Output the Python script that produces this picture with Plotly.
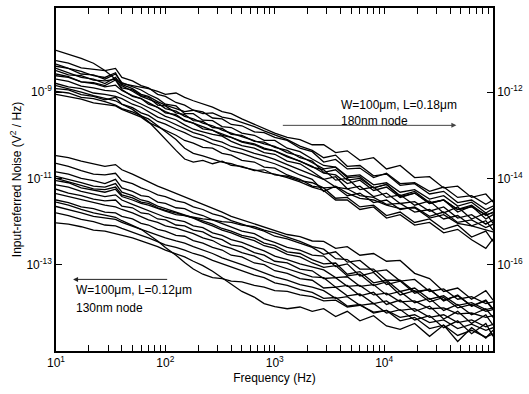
import plotly.graph_objects as go

# Frequency grid (Hz)
freq = [10, 13, 17, 22, 28, 35, 40, 50, 60, 70,
        85, 100, 125, 150, 180, 220, 270, 330, 400, 500,
        650, 800, 1000, 1300, 1700, 2200, 2800, 3600, 4600, 6000,
        8000, 10500, 14000, 19000, 26000, 35000, 47000, 63000, 85000, 99000]

# 180nm node curves: log10 of noise PSD (V^2/Hz)
u01 = [-8.03, -8.12, -8.22, -8.33, -8.50, -8.70, -8.80, -8.85, -8.88, -8.92,
       -8.98, -9.05, -9.02, -9.12, -9.20, -9.28, -9.35, -9.45, -9.50, -9.62,
       -9.75, -9.85, -9.95, -10.05, -10.10, -10.22, -10.22, -10.40, -10.36, -10.58,
       -10.52, -10.78, -10.70, -10.98, -10.96, -11.22, -11.18, -11.44, -11.36, -11.55]
u02 = [-8.27, -8.33, -8.44, -8.47, -8.50, -8.45, -8.66, -8.74, -8.85, -8.90,
       -9.05, -9.10, -9.24, -9.30, -9.42, -9.46, -9.60, -9.62, -9.75, -9.78,
       -9.92, -9.94, -10.05, -10.12, -10.30, -10.38, -10.62, -10.56, -10.78, -10.76,
       -10.98, -10.88, -11.12, -11.10, -11.30, -11.20, -11.44, -11.40, -11.60, -11.50]
u03 = [-8.40, -8.45, -8.58, -8.60, -8.70, -8.58, -8.78, -8.88, -8.95, -9.05,
       -9.15, -9.28, -9.32, -9.50, -9.50, -9.65, -9.66, -9.80, -9.82, -9.95,
       -10.00, -10.12, -10.12, -10.30, -10.38, -10.55, -10.70, -10.74, -10.95, -10.92,
       -11.15, -11.10, -11.32, -11.26, -11.48, -11.40, -11.64, -11.55, -11.80, -11.70]
u04 = [-8.50, -8.60, -8.62, -8.72, -8.74, -8.70, -8.90, -8.95, -9.08, -9.12,
       -9.30, -9.32, -9.48, -9.52, -9.66, -9.68, -9.82, -9.84, -9.98, -10.00,
       -10.14, -10.16, -10.28, -10.35, -10.52, -10.60, -10.86, -10.80, -11.04, -11.00,
       -11.22, -11.14, -11.40, -11.30, -11.56, -11.50, -11.72, -11.62, -11.86, -11.78]
u05 = [-8.58, -8.64, -8.76, -8.80, -8.88, -8.84, -8.96, -9.08, -9.15, -9.24,
       -9.36, -9.45, -9.55, -9.65, -9.72, -9.80, -9.90, -9.98, -10.04, -10.14,
       -10.20, -10.30, -10.36, -10.48, -10.60, -10.72, -10.88, -10.92, -11.12, -11.04,
       -11.28, -11.20, -11.44, -11.34, -11.58, -11.50, -11.78, -11.64, -11.94, -11.84]
u06 = [-8.70, -8.75, -8.86, -8.90, -8.96, -8.98, -9.06, -9.18, -9.26, -9.36,
       -9.46, -9.56, -9.64, -9.76, -9.86, -9.92, -9.98, -10.02, -10.14, -10.24,
       -10.30, -10.40, -10.44, -10.60, -10.66, -10.84, -11.02, -10.96, -11.24, -11.18,
       -11.42, -11.34, -11.58, -11.54, -11.76, -11.66, -11.92, -11.84, -12.06, -11.96]
u07 = [-8.80, -8.88, -8.92, -9.02, -9.05, -9.10, -9.15, -9.28, -9.35, -9.45,
       -9.58, -9.64, -9.76, -9.84, -9.94, -10.00, -10.10, -10.16, -10.26, -10.32,
       -10.42, -10.48, -10.56, -10.68, -10.80, -10.92, -11.02, -11.20, -11.24, -11.40,
       -11.44, -11.60, -11.58, -11.78, -11.72, -11.94, -11.86, -12.10, -11.98, -12.20]
u08 = [-8.92, -8.95, -9.06, -9.10, -9.18, -9.12, -9.28, -9.36, -9.48, -9.54,
       -9.68, -9.74, -9.86, -9.94, -10.04, -10.10, -10.20, -10.26, -10.36, -10.42,
       -10.52, -10.58, -10.66, -10.78, -10.92, -11.02, -11.30, -11.18, -11.34, -11.46,
       -11.50, -11.62, -11.70, -11.68, -11.92, -11.84, -12.04, -12.10, -12.20, -12.24]
u09 = [-9.05, -9.10, -9.16, -9.25, -9.28, -9.32, -9.40, -9.50, -9.58, -9.70,
       -9.80, -9.90, -10.00, -10.12, -10.18, -10.28, -10.30, -10.42, -10.46, -10.58,
       -10.62, -10.74, -10.76, -10.92, -11.02, -11.18, -11.22, -11.46, -11.44, -11.66,
       -11.62, -11.86, -11.78, -12.02, -11.94, -12.18, -12.08, -12.36, -12.22, -12.46]
u10 = [-8.85, -8.92, -9.00, -9.08, -9.15, -9.20, -9.28, -9.40, -9.55, -9.68,
       -9.90, -10.10, -10.35, -10.55, -10.62, -10.58, -10.66, -10.60, -10.70, -10.72,
       -10.82, -10.80, -10.92, -10.95, -11.05, -11.10, -11.22, -11.20, -11.40, -11.34,
       -11.56, -11.50, -11.72, -11.66, -11.88, -11.78, -12.02, -11.96, -12.14, -12.06]
u11 = [-8.98, -9.02, -9.12, -9.15, -9.22, -9.30, -9.38, -9.46, -9.55, -9.62,
       -9.78, -9.92, -10.10, -10.30, -10.42, -10.48, -10.55, -10.62, -10.66, -10.74,
       -10.80, -10.86, -10.90, -10.98, -11.08, -11.20, -11.28, -11.50, -11.50, -11.72,
       -11.66, -11.92, -11.84, -12.08, -12.02, -12.26, -12.18, -12.42, -12.62, -12.40]
u12 = [-8.35, -8.45, -8.52, -8.62, -8.66, -8.55, -8.82, -8.92, -9.05, -9.10,
       -9.22, -9.30, -9.38, -9.45, -9.42, -9.50, -9.48, -9.58, -9.62, -9.70,
       -9.80, -9.90, -10.00, -10.10, -10.25, -10.35, -10.52, -10.46, -10.72, -10.70,
       -10.94, -10.90, -11.16, -11.12, -11.36, -11.30, -11.56, -11.50, -11.72, -11.64]
u13 = [-8.62, -8.66, -8.76, -8.78, -8.85, -8.72, -8.94, -9.10, -9.15, -9.28,
       -9.35, -9.48, -9.52, -9.66, -9.72, -9.85, -9.88, -10.00, -10.05, -10.16,
       -10.22, -10.32, -10.36, -10.50, -10.60, -10.74, -10.80, -11.04, -11.00, -11.26,
       -11.20, -11.44, -11.38, -11.62, -11.52, -11.80, -11.66, -11.94, -11.80, -12.04]
u14 = [-8.45, -8.55, -8.66, -8.70, -8.80, -8.66, -8.85, -8.98, -9.10, -9.16,
       -9.25, -9.38, -9.44, -9.56, -9.62, -9.72, -9.78, -9.88, -9.95, -10.04,
       -10.12, -10.20, -10.26, -10.40, -10.48, -10.64, -10.78, -10.74, -10.98, -10.96,
       -11.22, -11.14, -11.42, -11.34, -11.58, -11.50, -11.72, -11.66, -11.84, -11.80]

# 130nm node curves: log10 of noise PSD (V^2/Hz)
l01 = [-10.47, -10.52, -10.60, -10.66, -10.72, -10.68, -10.80, -10.90, -11.00, -11.08,
       -11.18, -11.25, -11.35, -11.42, -11.50, -11.60, -11.68, -11.78, -11.88, -11.96,
       -12.05, -12.12, -12.20, -12.30, -12.35, -12.45, -12.46, -12.62, -12.58, -12.78,
       -12.74, -12.92, -12.90, -13.20, -13.32, -13.62, -13.54, -13.80, -13.60, -13.82]
l02 = [-10.65, -10.72, -10.82, -10.90, -10.92, -10.88, -11.05, -11.12, -11.22, -11.28,
       -11.38, -11.42, -11.52, -11.56, -11.66, -11.72, -11.82, -11.88, -11.98, -12.05,
       -12.15, -12.22, -12.34, -12.40, -12.50, -12.60, -12.76, -12.70, -12.94, -12.90,
       -13.16, -13.12, -13.38, -13.34, -13.62, -13.56, -13.80, -13.74, -13.90, -13.86]
l03 = [-10.85, -10.90, -11.00, -11.05, -11.12, -11.02, -11.22, -11.30, -11.40, -11.42,
       -11.55, -11.58, -11.68, -11.70, -11.80, -11.86, -11.96, -12.04, -12.12, -12.22,
       -12.28, -12.40, -12.48, -12.60, -12.66, -12.78, -12.80, -13.04, -12.98, -13.26,
       -13.18, -13.46, -13.38, -13.66, -13.56, -13.84, -13.70, -13.96, -13.82, -14.02]
l04 = [-11.00, -11.08, -11.15, -11.24, -11.26, -11.20, -11.38, -11.45, -11.55, -11.58,
       -11.68, -11.74, -11.80, -11.86, -11.92, -12.02, -12.10, -12.20, -12.26, -12.36,
       -12.44, -12.56, -12.62, -12.76, -12.82, -12.96, -13.06, -13.02, -13.26, -13.22,
       -13.48, -13.40, -13.70, -13.60, -13.86, -13.76, -14.00, -13.92, -14.08, -14.04]
l05 = [-11.15, -11.20, -11.30, -11.36, -11.42, -11.38, -11.50, -11.60, -11.68, -11.74,
       -11.82, -11.90, -11.96, -12.00, -12.10, -12.14, -12.26, -12.32, -12.42, -12.48,
       -12.60, -12.68, -12.80, -12.88, -12.98, -13.06, -13.12, -13.30, -13.28, -13.50,
       -13.46, -13.70, -13.62, -13.88, -13.78, -14.06, -13.92, -14.16, -14.02, -14.22]
l06 = [-11.25, -11.34, -11.40, -11.48, -11.52, -11.50, -11.64, -11.68, -11.80, -11.82,
       -11.94, -11.96, -12.08, -12.10, -12.20, -12.24, -12.36, -12.42, -12.54, -12.58,
       -12.72, -12.78, -12.92, -12.96, -13.10, -13.14, -13.32, -13.30, -13.50, -13.48,
       -13.70, -13.66, -13.86, -13.84, -14.02, -14.00, -14.14, -14.12, -14.22, -14.18]
l07 = [-11.35, -11.42, -11.50, -11.56, -11.62, -11.66, -11.72, -11.80, -11.88, -11.96,
       -12.02, -12.10, -12.15, -12.22, -12.28, -12.38, -12.44, -12.56, -12.62, -12.72,
       -12.80, -12.92, -13.00, -13.10, -13.18, -13.28, -13.30, -13.52, -13.48, -13.72,
       -13.64, -13.92, -13.82, -14.08, -13.96, -14.26, -14.08, -14.36, -14.16, -14.40]
l08 = [-11.50, -11.56, -11.66, -11.70, -11.78, -11.80, -11.88, -11.94, -12.04, -12.08,
       -12.18, -12.22, -12.32, -12.34, -12.44, -12.50, -12.60, -12.66, -12.78, -12.82,
       -12.96, -13.00, -13.14, -13.20, -13.32, -13.36, -13.54, -13.52, -13.72, -13.68,
       -13.90, -13.84, -14.06, -14.02, -14.22, -14.16, -14.34, -14.28, -14.44, -14.38]
l09 = [-11.65, -11.72, -11.80, -11.88, -11.92, -11.95, -12.02, -12.10, -12.18, -12.24,
       -12.32, -12.38, -12.45, -12.50, -12.58, -12.66, -12.74, -12.84, -12.92, -13.00,
       -13.10, -13.18, -13.28, -13.36, -13.46, -13.52, -13.60, -13.78, -13.74, -13.94,
       -13.90, -14.12, -14.04, -14.28, -14.18, -14.46, -14.30, -14.60, -14.36, -14.66]
l10 = [-11.80, -11.86, -11.95, -12.00, -12.08, -12.10, -12.16, -12.24, -12.32, -12.38,
       -12.46, -12.54, -12.60, -12.66, -12.74, -12.80, -12.90, -12.98, -13.06, -13.14,
       -13.24, -13.30, -13.42, -13.48, -13.58, -13.64, -13.78, -13.76, -13.96, -13.92,
       -14.12, -14.06, -14.30, -14.22, -14.48, -14.40, -14.64, -14.52, -14.68, -14.60]
l11 = [-12.03, -12.06, -12.12, -12.20, -12.22, -12.28, -12.32, -12.38, -12.45, -12.50,
       -12.58, -12.66, -12.75, -12.82, -12.92, -13.02, -13.15, -13.30, -13.45, -13.62,
       -13.75, -13.90, -13.97, -14.02, -13.98, -14.08, -14.02, -14.20, -14.08, -14.30,
       -14.18, -14.42, -14.50, -14.36, -14.66, -14.40, -14.78, -14.46, -14.70, -14.52]
l12 = [-11.55, -11.62, -11.72, -11.80, -11.85, -11.90, -11.98, -12.08, -12.18, -12.30,
       -12.45, -12.60, -12.78, -12.95, -13.10, -13.22, -13.30, -13.32, -13.38, -13.40,
       -13.48, -13.52, -13.60, -13.62, -13.70, -13.74, -13.84, -13.82, -13.98, -13.94,
       -14.10, -14.06, -14.22, -14.16, -14.34, -14.28, -14.48, -14.38, -14.52, -14.46]
l13 = [-11.05, -11.10, -11.22, -11.28, -11.32, -11.25, -11.42, -11.50, -11.58, -11.62,
       -11.70, -11.76, -11.84, -11.86, -11.90, -11.94, -11.96, -12.00, -12.02, -12.08,
       -12.12, -12.20, -12.26, -12.36, -12.46, -12.58, -12.64, -12.86, -12.88, -13.10,
       -13.10, -13.36, -13.36, -13.62, -13.58, -13.82, -13.72, -13.96, -13.84, -14.04]
l14 = [-10.95, -11.02, -11.10, -11.18, -11.20, -11.12, -11.32, -11.40, -11.50, -11.54,
       -11.64, -11.70, -11.78, -11.84, -11.90, -11.98, -12.06, -12.16, -12.22, -12.32,
       -12.38, -12.50, -12.56, -12.70, -12.74, -12.88, -12.98, -12.96, -13.22, -13.16,
       -13.42, -13.36, -13.62, -13.54, -13.80, -13.72, -13.94, -13.88, -14.04, -14.00]

curves_180 = [u01, u02, u03, u04, u05, u06, u07, u08, u09, u10, u11, u12, u13, u14]
curves_130 = [l01, l02, l03, l04, l05, l06, l07, l08, l09, l10, l11, l12, l13, l14]

for c in curves_180 + curves_130:
    if len(c) != len(freq):
        raise ValueError("length mismatch %d" % len(c))

x_tickvals = [10, 100, 1000, 10000]
x_ticktext = ["10<sup>1</sup>", "10<sup>2</sup>", "10<sup>3</sup>", "10<sup>4</sup>"]
y_tickvals = [1e-13, 1e-11, 1e-9]
y_ticktext = ["10<sup>-13</sup>", "10<sup>-11</sup>", "10<sup>-9</sup>"]
y2_tickvals = [1e-16, 1e-14, 1e-12]
y2_ticktext = ["10<sup>-16</sup>", "10<sup>-14</sup>", "10<sup>-12</sup>"]

minor_x = [m * 10 ** d for d in range(1, 5) for m in range(2, 10)]

FONT = "Liberation Sans, Arial, Helvetica, sans-serif"

fig = go.Figure()
for c in curves_180 + curves_130:
    fig.add_trace(go.Scatter(
        x=freq, y=[10 ** v for v in c], mode="lines",
        line=dict(color="black", width=1.3),
        showlegend=False, hoverinfo="skip"))

# dummy trace so the right axis is drawn
fig.add_trace(go.Scatter(x=[100], y=[1e-14], yaxis="y2", mode="markers",
                         marker=dict(opacity=0, size=1), showlegend=False,
                         hoverinfo="skip"))

axis_common = dict(showline=True, linecolor="black", linewidth=1.5,
                   ticks="inside", ticklen=6, tickwidth=1, tickcolor="black",
                   showgrid=False, zeroline=False,
                   tickfont=dict(family=FONT, size=12, color="black"))

fig.update_layout(
    width=529, height=394,
    margin=dict(l=56, r=35, t=6, b=43),
    paper_bgcolor="white", plot_bgcolor="white",
    font=dict(family=FONT, size=12, color="black"),
    xaxis=dict(type="log", range=[1, 4.995], mirror="allticks",
               tickmode="array", tickvals=x_tickvals, ticktext=x_ticktext,
               minor=dict(tickmode="array", tickvals=minor_x, ticks="inside",
                          ticklen=3, tickcolor="black", showgrid=False),
               title=dict(text="Frequency (Hz)", standoff=4,
                          font=dict(family=FONT, size=12)),
               **axis_common),
    yaxis=dict(type="log", range=[-15, -7.05],
               tickmode="array", tickvals=y_tickvals, ticktext=y_ticktext,
               title=dict(text="Input-referred Noise (V<sup>2</sup> / Hz)",
                          standoff=2, font=dict(family=FONT, size=12)),
               **axis_common),
    yaxis2=dict(type="log", range=[-18, -10.05], overlaying="y", side="right",
                tickmode="array", tickvals=y2_tickvals, ticktext=y2_ticktext,
                **axis_common),
)

ann_font = dict(family=FONT, size=12, color="black")
fig.add_annotation(x=3.59, y=-9.29, xref="x", yref="y", text="W=100μm, L=0.18μm",
                   showarrow=False, xanchor="left", yanchor="middle", font=ann_font)
fig.add_annotation(x=3.59, y=-9.68, xref="x", yref="y", text="180nm node",
                   showarrow=False, xanchor="left", yanchor="middle", font=ann_font)
fig.add_annotation(x=4.66, y=-9.77, xref="x", yref="y", ax=3.06, ay=-9.77,
                   axref="x", ayref="y", text="", showarrow=True, arrowhead=2,
                   arrowsize=1, arrowwidth=1, arrowcolor="#444444")
fig.add_annotation(x=1.164, y=-13.59, xref="x", yref="y", text="W=100μm, L=0.12μm",
                   showarrow=False, xanchor="left", yanchor="middle", font=ann_font)
fig.add_annotation(x=1.164, y=-14.01, xref="x", yref="y", text="130nm node",
                   showarrow=False, xanchor="left", yanchor="middle", font=ann_font)
fig.add_annotation(x=1.156, y=-13.34, xref="x", yref="y", ax=2.03, ay=-13.34,
                   axref="x", ayref="y", text="", showarrow=True, arrowhead=2,
                   arrowsize=1, arrowwidth=1, arrowcolor="#222222")

fig.write_html("out.html")
